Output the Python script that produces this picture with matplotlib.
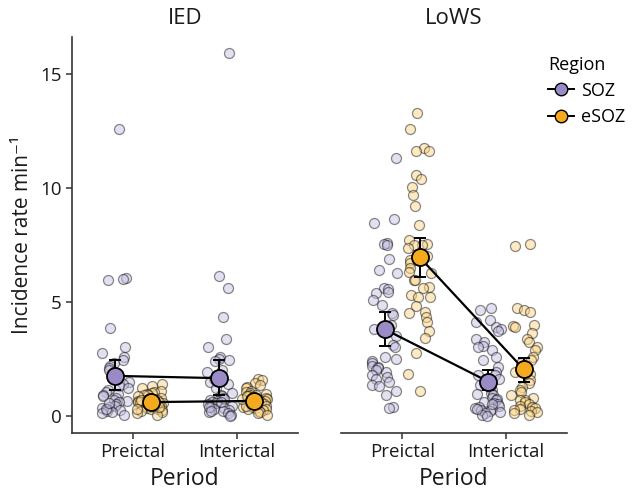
import numpy as np
import matplotlib
matplotlib.use("Agg")
import matplotlib.pyplot as plt
from matplotlib.lines import Line2D

plt.rcParams['font.family'] = ['Open Sans', 'DejaVu Sans']

periods = ["Preictal", "Interictal"]
regions = ["SOZ", "eSOZ"]
panels = ["IED", "LoWS"]

# individual incidence rates
ied_pre_soz = [12.6, 6.05, 6.0, 5.95, 3.85, 3.0, 2.75, 2.6, 2.45, 2.3, 2.2, 2.1, 2.0, 1.9,
               1.75, 1.6, 1.5, 1.4, 1.3, 1.2, 1.15, 1.05, 0.95, 0.9, 0.85, 0.8, 0.7, 0.65,
               0.6, 0.5, 0.45, 0.4, 0.35, 0.3, 0.25, 0.2, 0.15, 0.1, 0.05, 0.3, 0.55]
ied_pre_esoz = [1.4, 1.3, 1.2, 1.1, 1.05, 1.0, 0.95, 0.9, 0.9, 0.85, 0.8, 0.8, 0.75, 0.7,
                0.7, 0.65, 0.65, 0.6, 0.6, 0.55, 0.55, 0.5, 0.5, 0.45, 0.45, 0.4, 0.4, 0.35,
                0.3, 0.3, 0.25, 0.2, 0.15, 0.1, 0.05, 0.6, 0.7, 0.5, 0.4, 0.3]
ied_int_soz = [15.9, 6.15, 5.6, 4.35, 3.35, 3.0, 2.6, 2.5, 2.45, 2.4, 2.0, 1.9, 1.75, 1.6,
               1.5, 1.4, 1.2, 1.0, 0.9, 0.85, 0.8, 0.75, 0.7, 0.65, 0.6, 0.55, 0.5, 0.45,
               0.4, 0.35, 0.3, 0.25, 0.2, 0.15, 0.1, 0.05, 0.0, 0.6, 0.4, 0.2]
ied_int_esoz = [1.6, 1.55, 1.45, 1.35, 1.25, 1.2, 1.1, 1.05, 1.0, 0.95, 0.9, 0.9, 0.85, 0.8,
                0.8, 0.75, 0.7, 0.7, 0.65, 0.6, 0.6, 0.55, 0.5, 0.5, 0.45, 0.4, 0.4, 0.35,
                0.3, 0.3, 0.25, 0.2, 0.15, 0.1, 0.05, 0.65, 0.55, 0.45, 0.75, 0.85]
lows_pre_soz = [11.3, 8.65, 8.45, 7.6, 7.55, 7.5, 6.9, 6.4, 6.25, 5.6, 5.55, 5.45, 5.4, 5.1,
                4.85, 4.5, 4.4, 4.0, 3.8, 3.5, 3.1, 3.0, 2.6, 2.5, 2.4, 2.3, 2.2, 2.15, 2.1,
                2.0, 1.9, 1.8, 1.7, 1.6, 1.5, 1.35, 1.3, 1.1, 0.9, 0.4, 0.35]
lows_pre_esoz = [13.3, 12.6, 11.75, 11.6, 11.6, 10.55, 10.4, 10.05, 9.7, 9.2, 8.35, 7.7, 7.55,
                 7.5, 7.5, 7.35, 7.0, 6.85, 6.7, 6.5, 6.3, 6.25, 5.95, 5.95, 5.65, 5.6, 5.3,
                 5.2, 5.2, 4.8, 4.55, 4.5, 4.35, 4.1, 3.7, 3.4, 2.75, 1.85, 1.1]
lows_int_soz = [4.75, 4.65, 4.2, 4.1, 3.9, 3.8, 3.7, 3.35, 3.25, 3.05, 3.0, 2.9, 2.6, 2.45,
                2.15, 1.9, 1.8, 1.8, 1.6, 1.35, 1.25, 1.15, 1.0, 0.95, 0.9, 0.8, 0.75, 0.7,
                0.6, 0.55, 0.5, 0.45, 0.4, 0.35, 0.3, 0.25, 0.2, 0.15, 0.1, 0.05, 0.0, 0.5, 0.3]
lows_int_esoz = [7.55, 7.45, 4.75, 4.65, 4.55, 4.0, 3.95, 3.9, 3.65, 3.35, 3.25, 3.0, 2.9,
                 2.6, 2.45, 2.3, 2.1, 1.9, 1.85, 1.55, 1.45, 1.25, 1.15, 1.05, 0.9, 0.8, 0.7,
                 0.7, 0.6, 0.5, 0.45, 0.4, 0.35, 0.3, 0.25, 0.2, 0.15, 0.1, 0.05]

# group means and error bar limits [Preictal, Interictal]
mean_ied_soz = [1.75, 1.65]
lo_ied_soz = [1.15, 0.9]
hi_ied_soz = [2.45, 2.43]
mean_ied_esoz = [0.6, 0.65]
lo_ied_esoz = [0.5, 0.55]
hi_ied_esoz = [0.72, 0.78]
mean_lows_soz = [3.8, 1.5]
lo_lows_soz = [3.07, 1.14]
hi_lows_soz = [4.57, 1.99]
mean_lows_esoz = [6.95, 2.05]
lo_lows_esoz = [6.1, 1.5]
hi_lows_esoz = [7.8, 2.54]

points = {
    ("IED", "SOZ"): [ied_pre_soz, ied_int_soz],
    ("IED", "eSOZ"): [ied_pre_esoz, ied_int_esoz],
    ("LoWS", "SOZ"): [lows_pre_soz, lows_int_soz],
    ("LoWS", "eSOZ"): [lows_pre_esoz, lows_int_esoz],
}
summary = {
    ("IED", "SOZ"): (mean_ied_soz, lo_ied_soz, hi_ied_soz),
    ("IED", "eSOZ"): (mean_ied_esoz, lo_ied_esoz, hi_ied_esoz),
    ("LoWS", "SOZ"): (mean_lows_soz, lo_lows_soz, hi_lows_soz),
    ("LoWS", "eSOZ"): (mean_lows_esoz, lo_lows_esoz, hi_lows_esoz),
}

light = {"SOZ": "#c9c2e4", "eSOZ": "#fcd78a"}
dark = {"SOZ": "#9a8bc6", "eSOZ": "#f5a91e"}
dodge = {"SOZ": -0.17, "eSOZ": 0.17}
axis_col = "#333333"
txt_col = "#1a1a1a"

fig = plt.figure(figsize=(6.35, 4.93), dpi=100)
ax1 = fig.add_axes([0.113, 0.122, 0.356, 0.803])
ax2 = fig.add_axes([0.537, 0.122, 0.356, 0.803], sharey=ax1)

rng = np.random.default_rng(7)
xpos = np.arange(1, len(periods) + 1)

for ax, panel in zip([ax1, ax2], panels):
    for reg in regions:
        for i, vals in enumerate(points[(panel, reg)]):
            v = np.array(vals)
            jit = rng.uniform(-0.13, 0.13, len(v))
            ax.scatter(xpos[i] + dodge[reg] + jit, v, s=52,
                       facecolor=matplotlib.colors.to_rgba(light[reg], 0.5),
                       edgecolor=(0, 0, 0, 0.45), linewidth=0.9, zorder=2)
    for reg in regions:
        m, lo, hi = summary[(panel, reg)]
        m = np.array(m)
        x = xpos + dodge[reg]
        ax.plot(x, m, color="black", lw=1.6, zorder=3)
        ax.errorbar(x, m, yerr=[m - np.array(lo), np.array(hi) - m], fmt="none",
                    ecolor="black", elinewidth=1.4, capsize=4, capthick=1.4, zorder=4)
        ax.scatter(x, m, s=150, facecolor=dark[reg], edgecolor="black",
                   linewidth=1.3, zorder=5)

    ax.set_xlim(0.41, 2.59)
    ax.set_xticks(xpos)
    ax.set_xticklabels(periods, fontsize=13.5, color=txt_col)
    ax.set_xlabel("Period", fontsize=16.5, color=txt_col, labelpad=4)
    ax.set_title(panel, fontsize=16, color=txt_col, pad=9)
    for s in ["top", "right"]:
        ax.spines[s].set_visible(False)
    ax.spines["bottom"].set_color(axis_col)
    ax.spines["left"].set_color(axis_col)
    ax.spines["bottom"].set_linewidth(1.2)
    ax.spines["left"].set_linewidth(1.2)
    ax.tick_params(axis="x", length=4, width=1.1, color=axis_col)

ax1.set_ylim(-0.75, 16.62)
ax1.set_yticks([0, 5, 10, 15])
ax1.tick_params(axis="y", labelsize=13.5, labelcolor=txt_col, length=4, width=1.1, color=axis_col)
ax1.set_ylabel("Incidence rate min⁻¹", fontsize=15, color=txt_col, labelpad=5)
ax2.spines["left"].set_visible(False)
ax2.tick_params(axis="y", left=False, labelleft=False)

handles = [Line2D([0], [0], color="black", lw=1.4, marker="o", markersize=9,
                  markerfacecolor=dark[r], markeredgecolor="black") for r in regions]
leg = fig.legend(handles, regions, title="Region", loc="upper left",
                 bbox_to_anchor=(0.838, 0.92), frameon=False, fontsize=13,
                 title_fontsize=13, handlelength=1.4, handletextpad=0.4,
                 labelspacing=0.45)
leg._legend_box.align = "left"

fig.savefig("out.png", dpi=100)
